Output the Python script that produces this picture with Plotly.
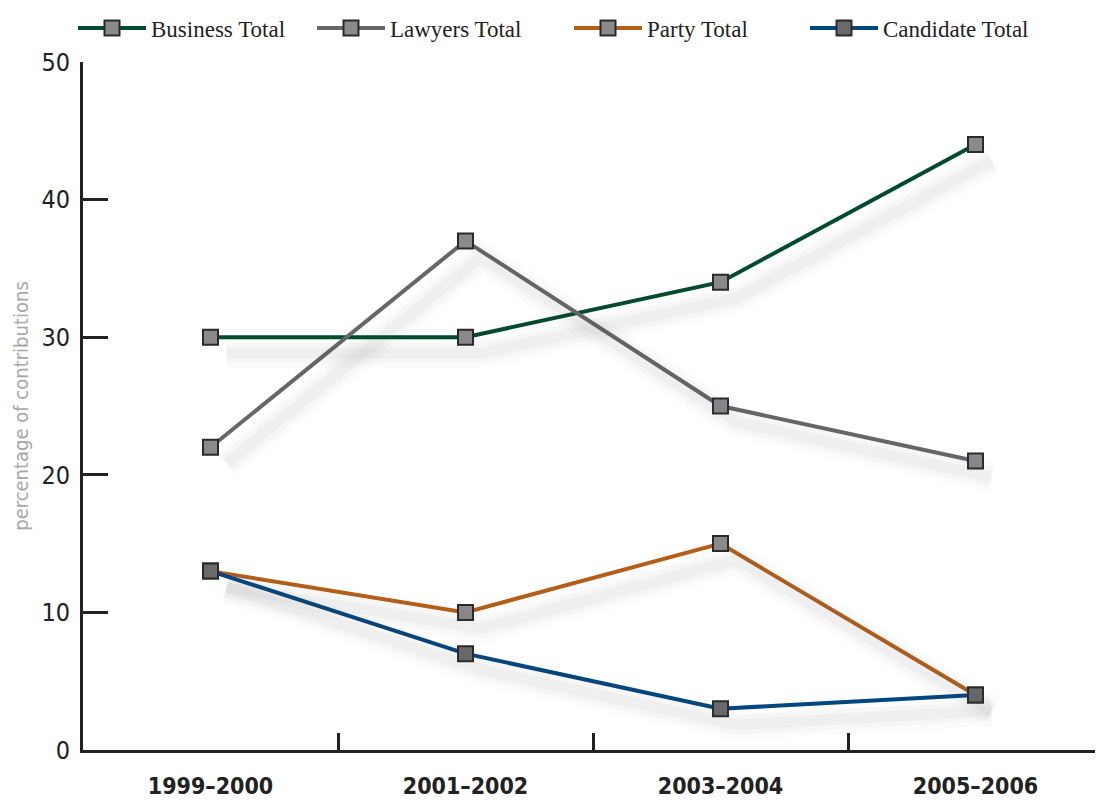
import plotly.graph_objects as go

periods = ["1999–2000", "2001–2002", "2003–2004", "2005–2006"]
business = [30, 30, 34, 44]
lawyers = [22, 37, 25, 21]
party = [13, 10, 15, 4]
candidate = [13, 7, 3, 4]

series = [
    ("Business Total", business, "#004b30", "#8a8a8c", "legend"),
    ("Lawyers Total", lawyers, "#676767", "#8a8a8c", "legend2"),
    ("Party Total", party, "#b55e17", "#8a8a8c", "legend3"),
    ("Candidate Total", candidate, "#00467f", "#6a6a6c", "legend4"),
]

COND = "DejaVu Sans Condensed, Liberation Sans Narrow, Roboto, sans-serif"
SERIF = "Liberation Serif, DejaVu Serif, serif"

FIG_W, FIG_H = 1095, 794   # page body adds an 8px margin
ML, MT, MR, MB = 75, 54, 0, 52

fig = go.Figure()

# soft drop shadows (same data, drawn on a slightly offset overlay axis)
for name, vals, col, fill, lg in series:
    for w, op in [(30, 0.022), (20, 0.03), (11, 0.04)]:
        fig.add_trace(go.Scatter(
            x=periods, y=vals, mode="lines", xaxis="x2", yaxis="y2",
            line=dict(color=f"rgba(80,80,80,{op})", width=w),
            showlegend=False, hoverinfo="skip",
        ))

for name, vals, col, fill, lg in series:
    fig.add_trace(go.Scatter(
        x=periods, y=vals, name=name, mode="lines+markers",
        line=dict(color=col, width=4),
        marker=dict(symbol="square", size=15, color=fill,
                    line=dict(color="#2a2a2a", width=2)),
        legend=lg, cliponaxis=False,
    ))

line_starts = [81, 320, 577, 813]
legend_common = dict(orientation="h", yanchor="middle", xanchor="left",
                     xref="container", yref="container", y=1 - (28 - 8) / FIG_H,
                     font=dict(family=SERIF, size=23, color="#222"),
                     bgcolor="rgba(0,0,0,0)", itemwidth=68)
layout_leg = {}
for i, px in enumerate(line_starts):
    key = "legend" if i == 0 else f"legend{i+1}"
    layout_leg[key] = dict(legend_common, x=(px - 16) / FIG_W)

W_PLOT = FIG_W - ML - MR
H_PLOT = FIG_H - MT - MB
dx_units = 4 * 16 / W_PLOT   # ~16 px to the right
dy_units = 50 * 16 / H_PLOT  # ~16 px down

fig.update_layout(
    width=FIG_W, height=FIG_H,
    margin=dict(l=ML, r=MR, t=MT, b=MB),
    plot_bgcolor="white", paper_bgcolor="white",
    showlegend=True,
    **layout_leg,
    xaxis=dict(
        type="category", range=[-0.5, 3.5], tickson="boundaries",
        ticks="inside", ticklen=17, tickwidth=2.5, tickcolor="#222",
        showline=True, linecolor="#222", linewidth=3,
        showgrid=False, zeroline=False, automargin=False,
        ticklabelstandoff=13,
        tickfont=dict(family=COND, size=23, color="#222", weight="bold"),
    ),
    yaxis=dict(
        range=[0, 50], tickvals=[0, 10, 20, 30, 40, 50],
        ticks="inside", ticklen=25, tickwidth=2.5, tickcolor="#222",
        showline=True, linecolor="#222", linewidth=3,
        showgrid=False, zeroline=False, automargin=False,
        ticklabelstandoff=5,
        tickfont=dict(family=COND, size=25, color="#222"),
        title=dict(text="percentage of contributions",
                   font=dict(family=COND, size=20, color="#a8a8a8"), standoff=8),
    ),
    xaxis2=dict(type="category", overlaying="x", visible=False,
                range=[-0.5 - dx_units, 3.5 - dx_units]),
    yaxis2=dict(overlaying="y", visible=False, range=[dy_units, 50 + dy_units]),
)

fig.write_html("out.html")
